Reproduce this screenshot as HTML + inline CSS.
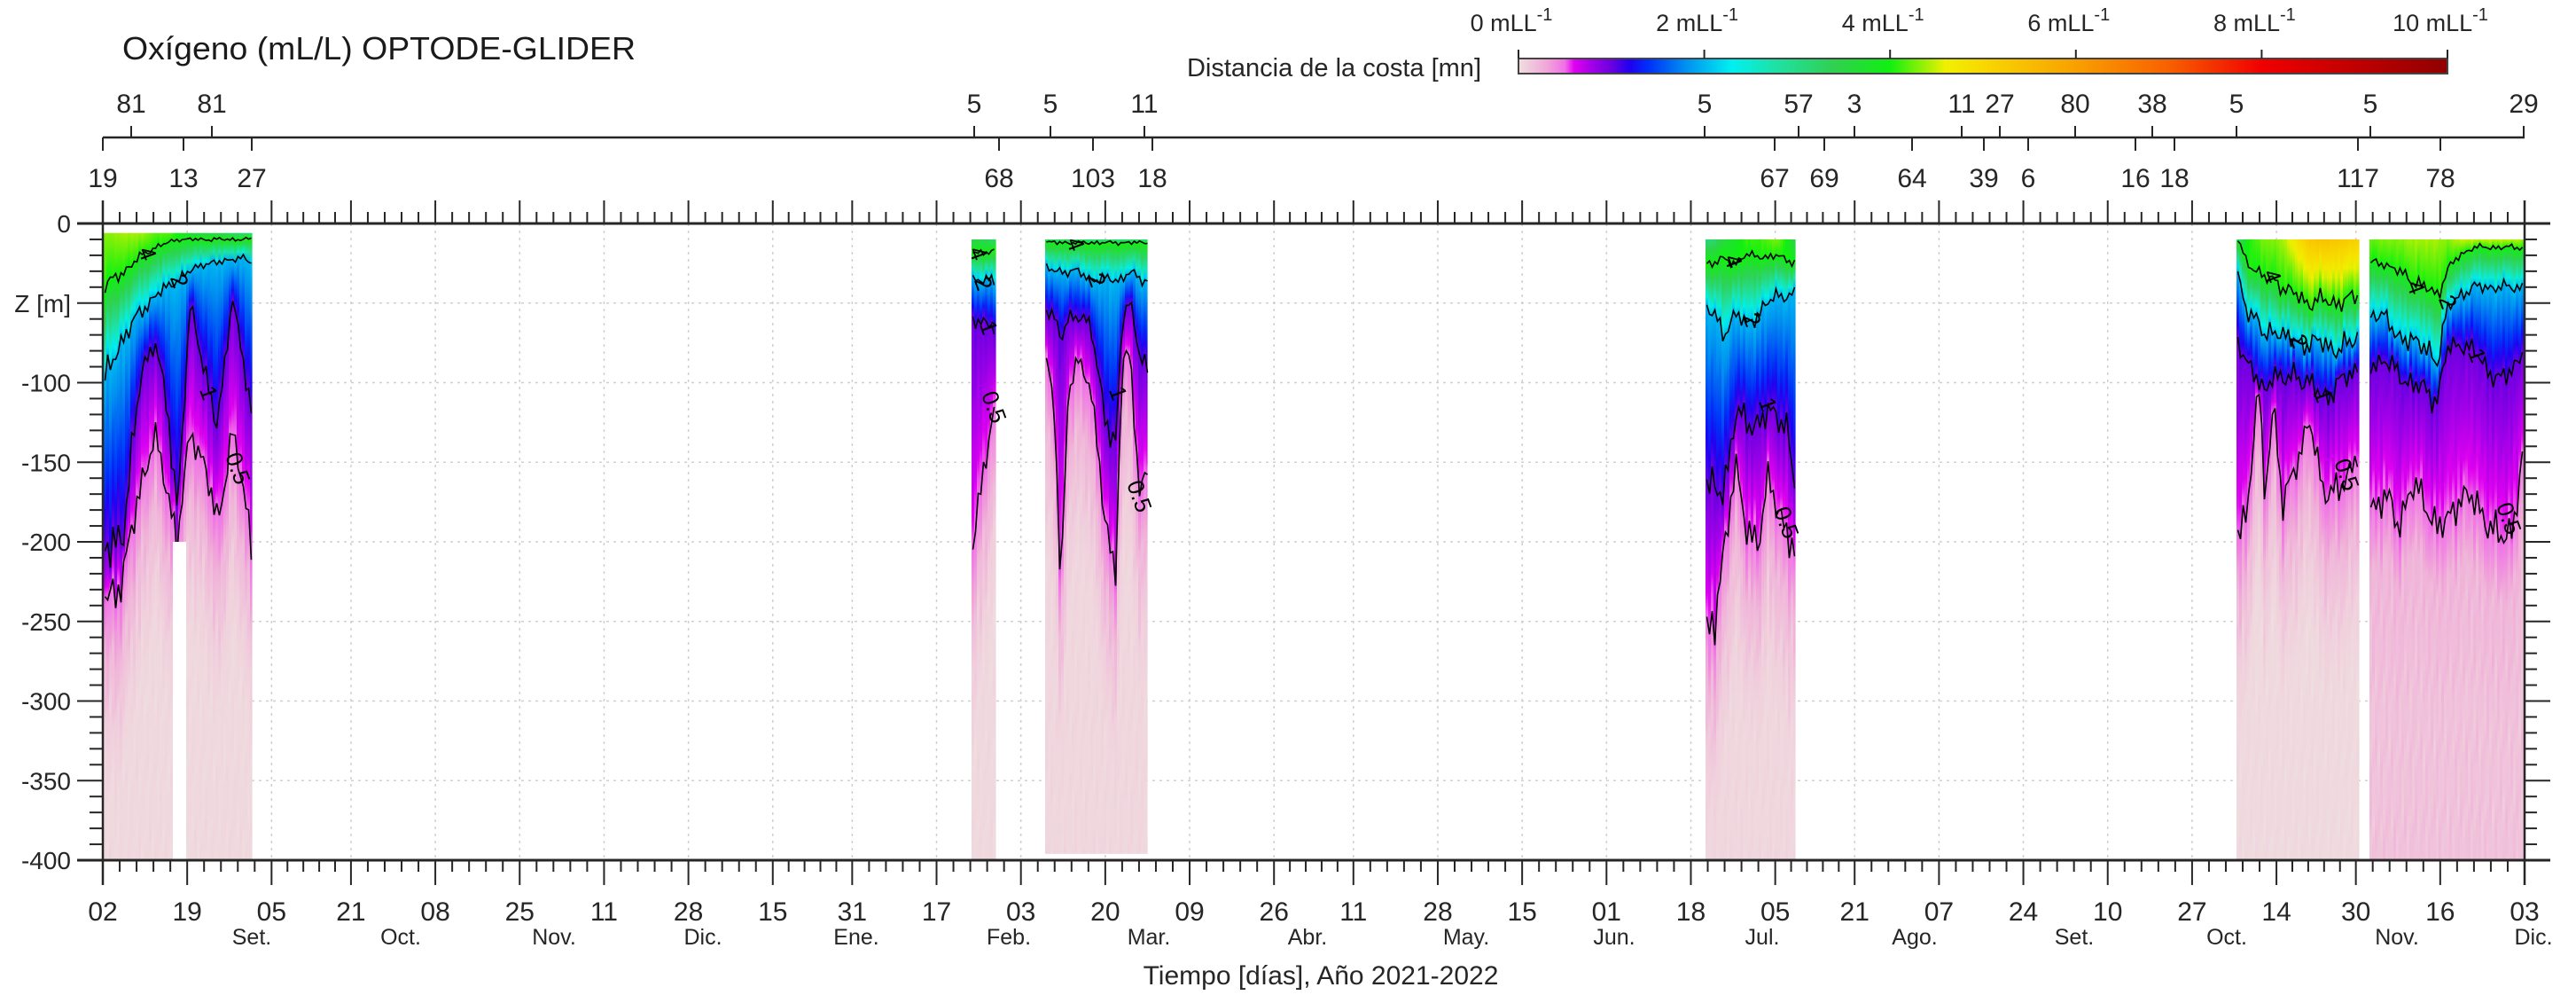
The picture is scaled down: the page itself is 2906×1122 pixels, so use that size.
<!DOCTYPE html>
<html><head><meta charset="utf-8"><style>
html,body{margin:0;padding:0;background:#fff;}
svg{display:block;font-family:"Liberation Sans",Arial,sans-serif;}
</style></head><body>
<svg id="s" width="2906" height="1122" viewBox="0 0 2906 1122" xmlns="http://www.w3.org/2000/svg">
<defs>
<linearGradient id="cb" x1="0" x2="1" y1="0" y2="0">
<stop offset="0" stop-color="#efdfe0"/><stop offset="0.03" stop-color="#f0a8d8"/><stop offset="0.05" stop-color="#f070e8"/><stop offset="0.06" stop-color="#e000f0"/><stop offset="0.08" stop-color="#a000e8"/><stop offset="0.1" stop-color="#6a00e0"/><stop offset="0.12" stop-color="#2000f0"/><stop offset="0.14" stop-color="#0030f8"/><stop offset="0.18" stop-color="#0090f0"/><stop offset="0.23" stop-color="#00f0f0"/><stop offset="0.28" stop-color="#20e0a0"/><stop offset="0.34" stop-color="#30d050"/><stop offset="0.40" stop-color="#10f010"/><stop offset="0.46" stop-color="#f0f000"/><stop offset="0.50" stop-color="#f8d800"/><stop offset="0.60" stop-color="#f8a000"/><stop offset="0.70" stop-color="#f86000"/><stop offset="0.80" stop-color="#f00000"/><stop offset="1" stop-color="#900000"/>
</linearGradient>
</defs>
<g id="data"></g>
<g id="axes"></g>
</svg>
<script>
const NS="http://www.w3.org/2000/svg";
const svg=document.getElementById('s'),gD=document.getElementById('data'),gA=document.getElementById('axes');
function el(tag,attrs,parent,text){const e=document.createElementNS(NS,tag);for(const k in attrs)e.setAttribute(k,attrs[k]);if(text!==undefined)e.textContent=text;(parent||gA).appendChild(e);return e;}
const X0=116,X1=2848,Y0=252,Y1=970,PY=(Y1-Y0)/400;
const yd=d=>Y0+d*PY;
const CM=[[0,"#efdfe0"],[0.15,"#f0cfdc"],[0.3,"#f0a8d8"],[0.5,"#f070e8"],[0.6,"#e000f0"],[0.8,"#a000e8"],[1.0,"#6a00e0"],[1.2,"#2000f0"],[1.4,"#0030f8"],[1.8,"#0090f0"],[2.3,"#00f0f0"],[2.8,"#20e0a0"],[3.4,"#30d050"],[4,"#10f010"],[4.6,"#f0f000"],[5,"#f8d800"],[6,"#f8a000"],[7,"#f86000"],[8,"#f00000"],[10,"#900000"]];
function hx(h){return [parseInt(h.substr(1,2),16),parseInt(h.substr(3,2),16),parseInt(h.substr(5,2),16)];}
function cmap(v){if(v<=0)return CM[0][1];for(let i=1;i<CM.length;i++){if(v<=CM[i][0]){const a=hx(CM[i-1][1]),b=hx(CM[i][1]);const t=(v-CM[i-1][0])/(CM[i][0]-CM[i-1][0]);return 'rgb('+a.map((c,j)=>Math.round(c+(b[j]-c)*t)).join(',')+')';}}return CM[CM.length-1][1];}
const P=[
{x0:117,x1:284,top:6,bot:400,vb:0.06,k:[[117,40,100,210,240,4.3],[140,30,70,190,220,4.4],[160,20,55,90,160,4.4],[175,15,45,75,135,4.2],[190,12,40,120,170,4.2],[200,10,35,180,200,4.0],[215,10,30,50,130,3.6],[230,10,25,90,150,3.5],[245,10,25,130,190,3.4],[262,10,22,45,130,3.2],[275,10,22,90,170,3.1],[284,10,25,120,200,3.0]]},
{x0:1096,x1:1123,top:10,bot:400,vb:0.06,k:[[1096,18,35,60,200,3.4],[1105,18,35,60,175,3.4],[1112,18,35,65,150,3.3],[1123,18,38,65,110,3.2]]},
{x0:1179,x1:1294,top:10,bot:396,vb:0.08,k:[[1179,12,28,55,80,3.0],[1190,12,30,60,120,3.0],[1197,12,30,70,225,3.1],[1205,12,30,60,110,3.2],[1215,12,30,60,85,3.0],[1230,12,35,60,100,3.0],[1245,12,35,120,180,3.0],[1258,12,35,140,220,3.0],[1266,12,35,60,90,3.0],[1275,12,30,50,80,3.0],[1285,12,35,80,170,3.0],[1294,12,35,90,150,3.0]]},
{x0:1924,x1:2025,top:10,bot:400,vb:0.08,k:[[1924,25,50,165,265,3.0],[1935,25,60,170,250,3.2],[1945,22,70,165,200,3.6],[1958,25,55,120,155,3.8],[1970,20,65,125,190,4.1],[1985,20,55,125,200,4.1],[1995,22,50,120,160,4.2],[2005,20,45,120,175,4.3],[2015,22,45,125,195,4.0],[2025,25,45,170,210,3.4]]},
{x0:2523,x1:2661,top:10,bot:400,vb:0.05,k:[[2523,8,30,75,195,2.6],[2535,25,55,85,180,4.0],[2548,30,60,100,100,4.2],[2555,35,75,110,170,4.3],[2565,35,65,90,110,4.3],[2575,40,70,100,180,4.4],[2590,45,75,95,150,4.8],[2605,50,75,100,125,5.3],[2620,48,75,110,165,5.4],[2640,50,80,100,170,5.3],[2661,45,70,90,140,5.1]]},
{x0:2673,x1:2847,top:10,bot:400,vb:0.2,k:[[2673,25,60,90,180,4.2],[2690,25,55,85,170,4.3],[2705,30,75,95,190,4.3],[2720,35,70,100,165,4.4],[2735,40,80,105,175,4.4],[2750,45,85,110,190,4.4],[2760,30,55,80,190,4.3],[2775,20,45,75,170,4.5],[2790,15,40,80,175,4.5],[2805,15,40,90,185,4.5],[2820,15,40,100,200,4.5],[2835,15,40,90,190,4.5],[2847,15,40,80,140,4.4]]}
];
function interp(k,x){if(x<=k[0][0])return k[0].slice(1);for(let i=1;i<k.length;i++){if(x<=k[i][0]){const t=(x-k[i-1][0])/(k[i][0]-k[i-1][0]);return k[i].slice(1).map((v,j)=>k[i-1][j+1]+(v-k[i-1][j+1])*t);}}return k[k.length-1].slice(1);}
function noise(x,s){return Math.sin(x*0.9+s)*0.5+Math.sin(x*0.37+s*2.1)*0.35+Math.sin(x*2.3+s*0.7)*0.25;}
let gid=0;
P.forEach((p,pi)=>{
  const W=3;const lines=[[],[],[],[]];
  for(let x=p.x0;x<p.x1;x+=W){
    const xm=x+W/2;const q=interp(p.k,xm);
    let d4=q[0]*(1+0.15*noise(xm,1+pi)),d2=q[1]*(1+0.12*noise(xm,2+pi)),d1=q[2]*(1+0.1*noise(xm,3+pi)),d05=q[3]*(1+0.08*noise(xm,4+pi)),vt=q[4];
    d4=Math.max(d4,p.top+1);d2=Math.max(d2,d4+3);d1=Math.max(d1,d2+3);d05=Math.max(d05,d1+3);
    const dd=[d4,d2,d1,d05];dd.forEach((d,i)=>lines[i].push([xm,yd(d)]));
    function v(d){if(d<d4)return vt+(4-vt)*(d-p.top)/(d4-p.top);if(d<d2)return 4-2*(d-d4)/(d2-d4);if(d<d1)return 2-(d-d2)/(d1-d2);if(d<d05)return 1-0.5*(d-d1)/(d05-d1);if(d<d05+40)return 0.5-0.25*(d-d05)/40;return 0.25-(0.25-p.vb)*Math.min(1,(d-d05-40)/90);}
    const id='g'+(gid++);
    const lg=el('linearGradient',{id:id,x1:0,x2:0,y1:0,y2:1},svg.querySelector('defs'));
    const depths=[];for(let d=p.top;d<=p.bot;d+=6)depths.push(d);
    [d4,d2,d1,d05,d05+20,d05+40].forEach(d=>{if(d<p.bot)depths.push(d);});
    depths.sort((a,b)=>a-b);
    depths.forEach(d=>el('stop',{offset:((d-p.top)/(p.bot-p.top)).toFixed(4),'stop-color':cmap(Math.max(0,v(d)+0.04*noise(xm*3+d*0.1,pi)))},lg));
    el('rect',{x:x,y:yd(p.top),width:Math.min(W,p.x1-x)+0.6,height:yd(p.bot)-yd(p.top),fill:'url(#'+id+')'},gD);
  }
  const names=['4','2','1','0.5'];
  lines.forEach((L,i)=>{
    el('polyline',{points:L.map(a=>a[0].toFixed(1)+','+a[1].toFixed(1)).join(' '),fill:'none',stroke:'#000','stroke-width':1.6},gD);
    const m=L[Math.floor(L.length*(0.3+0.2*i)%L.length)];
    if(m) el('text',{x:m[0],y:m[1]+9,'font-size':26,'text-anchor':'middle',transform:'rotate(70 '+m[0]+' '+m[1]+')',fill:'#000'},gD,names[i]);
  });
});
el('rect',{x:195,y:yd(200),width:15,height:yd(400)-yd(200)+1,fill:'#fff'},gD);

const days=[0,17,34,50,67,84,101,118,135,151,168,185,202,219,236,252,269,286,303,320,337,353,370,387,404,421,438,454,471,488];
const lab=["02","19","05","21","08","25","11","28","15","31","17","03","20","09","26","11","28","15","01","18","05","21","07","24","10","27","14","30","16","03"];
const PD=(X1-X0)/488;const xd=d=>X0+d*PD;
const gG=document.createElementNS(NS,'g');svg.insertBefore(gG,gD);
days.forEach((d,i)=>{if(i>0&&i<days.length-1)el('line',{x1:xd(d),x2:xd(d),y1:Y0,y2:Y1,stroke:'#cfcfcf','stroke-width':1.5,'stroke-dasharray':'3,5'},gG);});
for(let m=50;m<400;m+=50)el('line',{x1:X0,x2:X1,y1:yd(m),y2:yd(m),stroke:'#cfcfcf','stroke-width':1.5,'stroke-dasharray':'3,5'},gG);

const AX='#262626';
el('line',{x1:87,x2:X1+29,y1:Y0,y2:Y0,stroke:AX,'stroke-width':3});
el('line',{x1:87,x2:X1+29,y1:Y1,y2:Y1,stroke:AX,'stroke-width':3});
el('line',{x1:X0,x2:X0,y1:Y0-26,y2:Y1+28,stroke:AX,'stroke-width':2.5});
el('line',{x1:X1,x2:X1,y1:Y0-26,y2:Y1+28,stroke:AX,'stroke-width':2.5});
days.forEach((d,i)=>{
  const x=xd(d);
  el('line',{x1:x,x2:x,y1:Y1,y2:Y1+28,stroke:AX,'stroke-width':2});
  el('line',{x1:x,x2:x,y1:Y0,y2:Y0-26,stroke:AX,'stroke-width':2});
  el('text',{x:x,y:1038,'font-size':30,'text-anchor':'middle',fill:'#262626'},gA,lab[i]);
  if(i<days.length-1){const n=days[i+1];for(let j=1;j<5;j++){const xx=xd(d+(n-d)*j/5);el('line',{x1:xx,x2:xx,y1:Y1,y2:Y1+13,stroke:AX,'stroke-width':2});el('line',{x1:xx,x2:xx,y1:Y0,y2:Y0-13,stroke:AX,'stroke-width':2});}}
});
const months=[["Set.",284],["Oct.",452],["Nov.",625],["Dic.",793],["Ene.",966],["Feb.",1138],["Mar.",1296],["Abr.",1475],["May.",1654],["Jun.",1821],["Jul.",1988],["Ago.",2160],["Set.",2340],["Oct.",2512],["Nov.",2704],["Dic.",2858]];
months.forEach(m=>el('text',{x:m[1],y:1065,'font-size':25,'text-anchor':'middle',fill:'#262626'},gA,m[0]));
for(let m=0;m<=400;m+=10){const y=yd(m);const maj=m%50==0;
  el('line',{x1:maj?87:101,x2:X0,y1:y,y2:y,stroke:AX,'stroke-width':2});
  el('line',{x1:X1,x2:maj?X1+29:X1+14,y1:y,y2:y,stroke:AX,'stroke-width':2});
  if(maj)el('text',{x:80,y:y+10,'font-size':28,'text-anchor':'end',fill:'#262626'},gA,m==50?'Z [m]':(m==0?'0':'-'+m));
}
el('line',{x1:X0,x2:X1,y1:155,y2:155,stroke:AX,'stroke-width':2.5});
const up=[[148,"81"],[239,"81"],[1099,"5"],[1185,"5"],[1291,"11"],[1923,"5"],[2029,"57"],[2092,"3"],[2213,"11"],[2256,"27"],[2341,"80"],[2428,"38"],[2523,"5"],[2674,"5"],[2847,"29"]];
const dn=[[116,"19"],[207,"13"],[284,"27"],[1127,"68"],[1233,"103"],[1300,"18"],[2002,"67"],[2058,"69"],[2157,"64"],[2238,"39"],[2288,"6"],[2409,"16"],[2453,"18"],[2660,"117"],[2753,"78"]];
up.forEach(a=>{el('line',{x1:a[0],x2:a[0],y1:142,y2:155,stroke:AX,'stroke-width':2});el('text',{x:a[0],y:127,'font-size':30,'text-anchor':'middle',fill:'#262626'},gA,a[1]);});
dn.forEach(a=>{el('line',{x1:a[0],x2:a[0],y1:155,y2:170,stroke:AX,'stroke-width':2});el('text',{x:a[0],y:211,'font-size':30,'text-anchor':'middle',fill:'#262626'},gA,a[1]);});
el('text',{x:138,y:67,'font-size':36,fill:'#1a1a1a',textLength:579,lengthAdjust:'spacingAndGlyphs'},gA,'Oxígeno (mL/L) OPTODE-GLIDER');
el('text',{x:1490,y:1110,'font-size':30,'text-anchor':'middle',fill:'#262626'},gA,'Tiempo [días], Año 2021-2022');
el('text',{x:1671,y:86,'font-size':29,'text-anchor':'end',fill:'#262626'},gA,'Distancia de la costa [mn]');
el('rect',{x:1713,y:66,width:1048,height:17,fill:'url(#cb)',stroke:'#444','stroke-width':2});
for(let i=0;i<=5;i++){const x=1713+i*209.6;el('line',{x1:x,x2:x,y1:56,y2:66,stroke:AX,'stroke-width':2});
  const t=el('text',{x:x-8,y:35,'font-size':27,'text-anchor':'middle',fill:'#262626'},gA);
  const a=document.createElementNS(NS,'tspan');a.textContent=(2*i)+' mLL';t.appendChild(a);
  const b=document.createElementNS(NS,'tspan');b.setAttribute('dy','-12');b.setAttribute('font-size','20');b.textContent='-1';t.appendChild(b);
}
</script>
</body></html>
